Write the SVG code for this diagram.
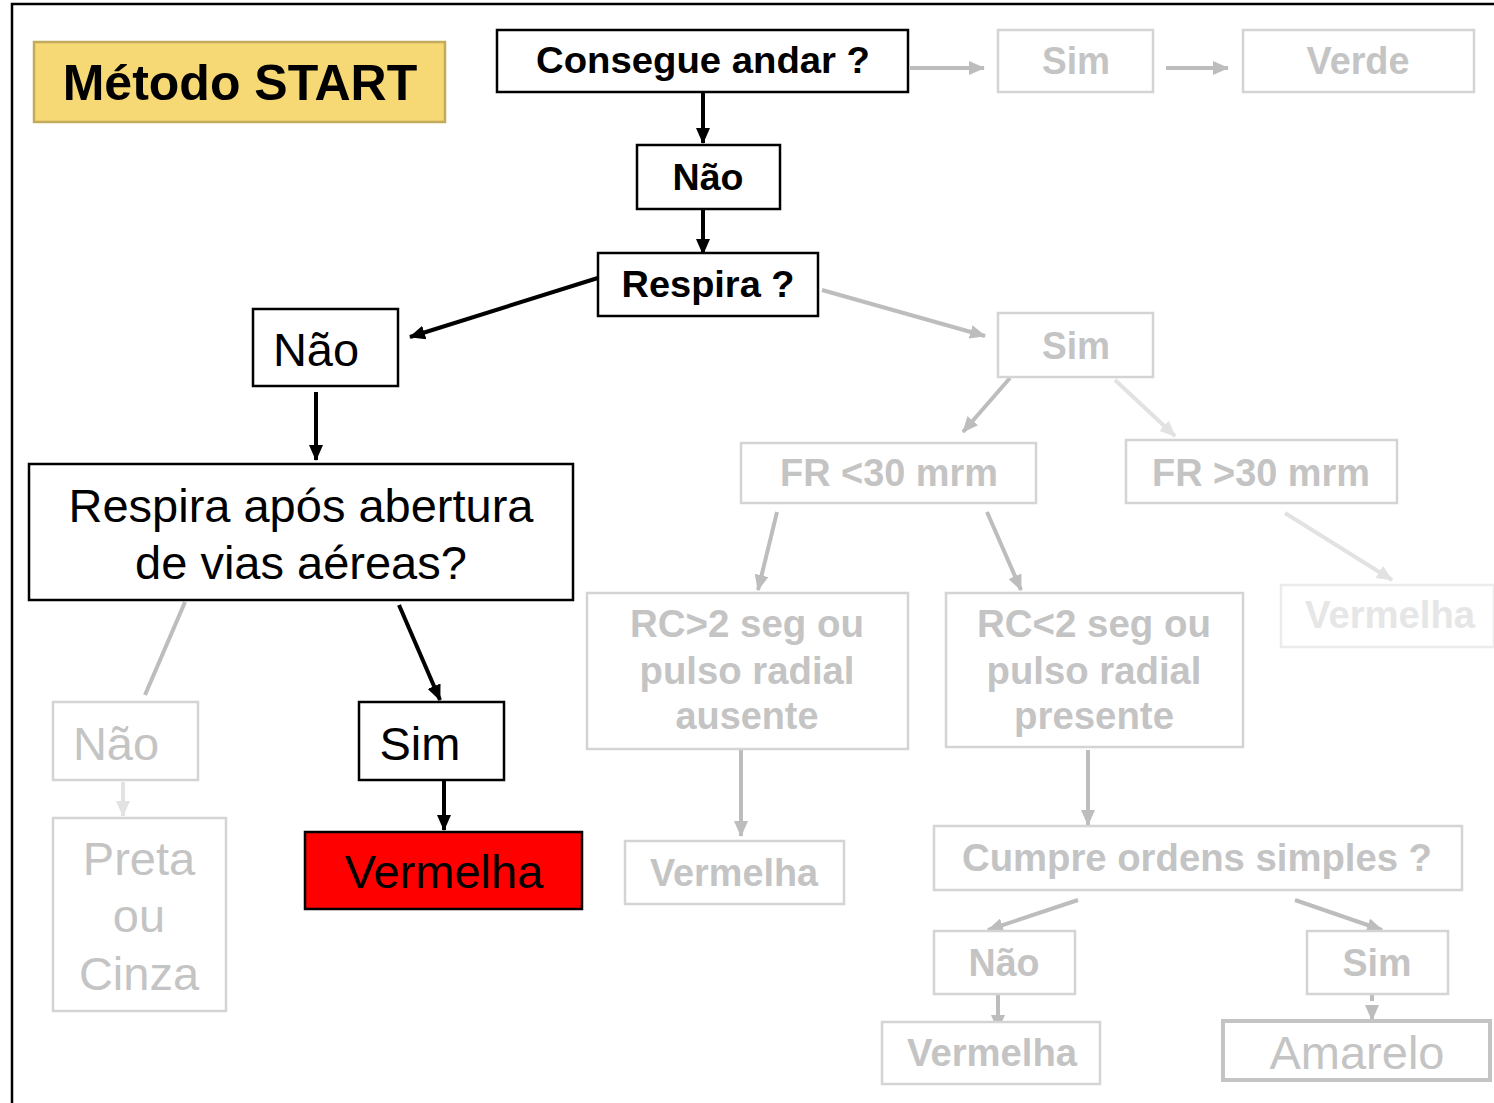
<svg xmlns="http://www.w3.org/2000/svg" width="1494" height="1103" viewBox="0 0 1494 1103">
<defs>
<marker id="ab" viewBox="0 0 16 14" markerWidth="16" markerHeight="14" refX="15" refY="7" orient="auto" markerUnits="userSpaceOnUse"><path d="M0,0 L16,7 L0,14 z" fill="#000"/></marker>
<marker id="ag" viewBox="0 0 16 14" markerWidth="16" markerHeight="14" refX="15" refY="7" orient="auto" markerUnits="userSpaceOnUse"><path d="M0,0 L16,7 L0,14 z" fill="#BDBDBD"/></marker>
<marker id="al" viewBox="0 0 16 14" markerWidth="16" markerHeight="14" refX="15" refY="7" orient="auto" markerUnits="userSpaceOnUse"><path d="M0,0 L16,7 L0,14 z" fill="#E2E2E2"/></marker>
</defs>
<style>
.bb{fill:#fff;stroke:#000;stroke-width:2.5}
.gb{fill:#fff;stroke:#D4D4D4;stroke-width:2.5}
.lb{fill:#fff;stroke:#EBEBEB;stroke-width:2.5}
.tb{font-family:"Liberation Sans",Arial,sans-serif;font-weight:bold;font-size:36px;fill:#000;text-anchor:middle}
.tn{font-family:"Liberation Sans",Arial,sans-serif;font-size:47px;fill:#000;text-anchor:middle}
.gt{font-family:"Liberation Sans",Arial,sans-serif;font-weight:bold;font-size:38px;fill:#C4C4C4;text-anchor:middle}
.gn{font-family:"Liberation Sans",Arial,sans-serif;font-size:47px;fill:#C4C4C4;text-anchor:middle}
.cb{stroke:#000;stroke-width:4;fill:none}
.cg{stroke:#BDBDBD;stroke-width:4;fill:none}
.cl{stroke:#E2E2E2;stroke-width:4;fill:none}
</style>
<rect width="1494" height="1103" fill="#fff"/>
<path d="M12,1103 L12,4 L1494,4" fill="none" stroke="#000" stroke-width="2.5"/>

<g id="connectors">
<line class="cb" x1="703" y1="93" x2="703" y2="143" marker-end="url(#ab)"/>
<line class="cb" x1="703" y1="210" x2="703" y2="254" marker-end="url(#ab)"/>
<line class="cb" x1="601" y1="277" x2="410" y2="337" marker-end="url(#ab)"/>
<line class="cb" x1="316" y1="392" x2="316" y2="460" marker-end="url(#ab)"/>
<line class="cb" x1="399" y1="605" x2="440" y2="700" marker-end="url(#ab)"/>
<line class="cb" x1="444" y1="781" x2="444" y2="830" marker-end="url(#ab)"/>
<line class="cg" x1="910" y1="68" x2="984" y2="68" marker-end="url(#ag)"/>
<line class="cg" x1="1166" y1="68" x2="1228" y2="68" marker-end="url(#ag)"/>
<line class="cg" x1="822" y1="290" x2="985" y2="336" marker-end="url(#ag)"/>
<line class="cg" x1="1010" y1="378" x2="963" y2="432" marker-end="url(#ag)"/>
<line class="cl" x1="1115" y1="380" x2="1175" y2="436" marker-end="url(#al)"/>
<line class="cg" x1="777" y1="512" x2="758" y2="590" marker-end="url(#ag)"/>
<line class="cg" x1="987" y1="512" x2="1021" y2="590" marker-end="url(#ag)"/>
<line class="cl" x1="1285" y1="513" x2="1392" y2="580" marker-end="url(#al)"/>
<line class="cg" x1="741" y1="750" x2="741" y2="836" marker-end="url(#ag)"/>
<line class="cg" x1="1088" y1="750" x2="1088" y2="825" marker-end="url(#ag)"/>
<line class="cg" x1="1078" y1="900" x2="988" y2="930" marker-end="url(#ag)"/>
<line class="cg" x1="1295" y1="900" x2="1382" y2="930" marker-end="url(#ag)"/>
<line class="cg" x1="998" y1="995" x2="998" y2="1030" marker-end="url(#ag)"/>
<line class="cg" x1="1372" y1="995" x2="1372" y2="1020" marker-end="url(#ag)" stroke-dasharray="6,4"/>
<line class="cg" x1="185" y1="602" x2="145" y2="695"/>
<line class="cl" x1="123" y1="782" x2="123" y2="816" marker-end="url(#al)"/>
</g>

<g id="title"><rect x="34" y="42" width="411" height="80" fill="#F6D874" stroke="#C2AB5C" stroke-width="2.5"/><text x="240" y="100" font-family="'Liberation Sans',Arial,sans-serif" font-weight="bold" font-size="50" text-anchor="middle" fill="#000">Método START</text></g>

<g id="consegue"><rect class="bb" x="497" y="30" width="411" height="62"/><text class="tb" x="703" y="73" textLength="334" lengthAdjust="spacingAndGlyphs">Consegue andar ?</text></g>
<g id="sim1"><rect class="gb" x="998" y="30" width="155" height="62"/><text class="gt" x="1076" y="74" textLength="68" lengthAdjust="spacingAndGlyphs">Sim</text></g>
<g id="verde"><rect class="gb" x="1243" y="30" width="231" height="62"/><text class="gt" x="1358" y="74" textLength="103" lengthAdjust="spacingAndGlyphs">Verde</text></g>
<g id="nao1"><rect class="bb" x="637" y="145" width="143" height="64"/><text class="tb" x="708" y="190" textLength="71" lengthAdjust="spacingAndGlyphs">Não</text></g>
<g id="respira"><rect class="bb" x="598" y="253" width="220" height="63"/><text class="tb" x="708" y="297" textLength="173" lengthAdjust="spacingAndGlyphs">Respira ?</text></g>
<g id="nao2"><rect class="bb" x="253" y="309" width="145" height="77"/><text class="tn" x="316" y="366">Não</text></g>
<g id="respira2"><rect class="bb" x="29" y="464" width="544" height="136"/><text class="tn" x="301" y="522">Respira após abertura</text><text class="tn" x="301" y="579">de vias aéreas?</text></g>
<g id="nao3"><rect class="gb" x="53" y="702" width="145" height="78"/><text class="gn" x="116" y="760">Não</text></g>
<g id="preta"><rect class="gb" x="53" y="818" width="173" height="193"/><text class="gn" x="139" y="875">Preta</text><text class="gn" x="139" y="932">ou</text><text class="gn" x="139" y="990">Cinza</text></g>
<g id="sim2"><rect class="bb" x="359" y="702" width="145" height="78"/><text class="tn" x="420" y="760">Sim</text></g>
<g id="vermelha1"><rect x="305" y="832" width="277" height="77" fill="#FF0000" stroke="#000" stroke-width="2.5"/><text class="tn" x="444" y="888">Vermelha</text></g>

<g id="sim3"><rect class="gb" x="998" y="313" width="155" height="64"/><text class="gt" x="1076" y="359" textLength="68" lengthAdjust="spacingAndGlyphs">Sim</text></g>
<g id="fr1"><rect class="gb" x="741" y="443" width="295" height="60"/><text class="gt" x="889" y="486" textLength="218" lengthAdjust="spacingAndGlyphs">FR &lt;30 mrm</text></g>
<g id="fr2"><rect class="gb" x="1126" y="440" width="271" height="63"/><text class="gt" x="1261" y="486" textLength="218" lengthAdjust="spacingAndGlyphs">FR &gt;30 mrm</text></g>
<g id="vermelha2"><rect class="lb" x="1281" y="585" width="213" height="62"/><text class="gt" x="1390" y="628" fill="#E6E6E6" style="fill:#E6E6E6" textLength="170" lengthAdjust="spacingAndGlyphs">Vermelha</text></g>
<g id="rc1"><rect class="gb" x="587" y="593" width="321" height="156"/><text class="gt" x="747" y="637" textLength="234" lengthAdjust="spacingAndGlyphs">RC&gt;2 seg ou</text><text class="gt" x="747" y="684" textLength="215" lengthAdjust="spacingAndGlyphs">pulso radial</text><text class="gt" x="747" y="729" textLength="143" lengthAdjust="spacingAndGlyphs">ausente</text></g>
<g id="rc2"><rect class="gb" x="946" y="593" width="297" height="154"/><text class="gt" x="1094" y="637" textLength="234" lengthAdjust="spacingAndGlyphs">RC&lt;2 seg ou</text><text class="gt" x="1094" y="684" textLength="215" lengthAdjust="spacingAndGlyphs">pulso radial</text><text class="gt" x="1094" y="729" textLength="160" lengthAdjust="spacingAndGlyphs">presente</text></g>
<g id="vermelha3"><rect class="gb" x="625" y="841" width="219" height="63"/><text class="gt" x="734" y="886" textLength="168" lengthAdjust="spacingAndGlyphs">Vermelha</text></g>
<g id="cumpre"><rect class="gb" x="934" y="826" width="528" height="64"/><text class="gt" x="1197" y="871" textLength="470" lengthAdjust="spacingAndGlyphs">Cumpre ordens simples ?</text></g>
<g id="nao4"><rect class="gb" x="934" y="931" width="141" height="63"/><text class="gt" x="1004" y="976" textLength="71" lengthAdjust="spacingAndGlyphs">Não</text></g>
<g id="sim4"><rect class="gb" x="1307" y="931" width="141" height="63"/><text class="gt" x="1377" y="976" textLength="69" lengthAdjust="spacingAndGlyphs">Sim</text></g>
<g id="vermelha4"><rect class="gb" x="882" y="1022" width="218" height="62"/><text class="gt" x="992" y="1066" textLength="170" lengthAdjust="spacingAndGlyphs">Vermelha</text></g>
<g id="amarelo"><rect x="1223" y="1021" width="267" height="59" fill="#fff" stroke="#C4C4C4" stroke-width="4"/><text class="gn" x="1357" y="1069">Amarelo</text></g>
</svg>
